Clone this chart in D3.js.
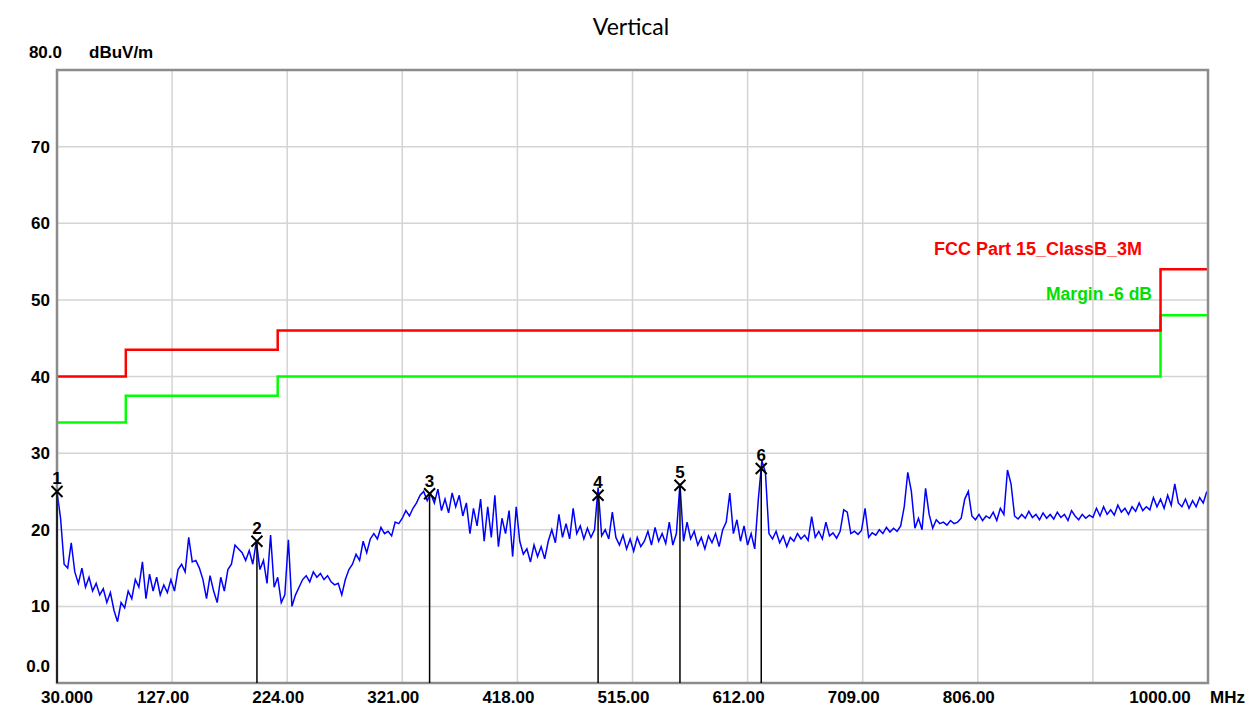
<!DOCTYPE html>
<html>
<head>
<meta charset="utf-8">
<script src="https://cdn.jsdelivr.net/npm/d3@7"></script>
<style>
  body { margin: 0; background: #fff; }
  svg { display: block; }
</style>
</head>
<body>
<div id="wrapper"></div>
<script>
// sweep: 30 MHz start, 3 MHz step (one reading per step)
const sweepStart = 30;
const sweepStep = 3;
const traceLevels = [
  25.0, 21.5, 15.5, 15.0, 18.3, 14.5, 13.0, 15.0, 12.5, 13.8,
  12.0, 13.0, 11.5, 12.3, 10.5, 11.8, 9.5, 8.0, 10.5, 9.8,
  12.0, 11.0, 13.5, 12.5, 15.8, 11.0, 14.2, 12.0, 13.8, 11.5,
  12.8, 11.8, 13.5, 12.0, 14.8, 15.5, 14.5, 19.0, 15.8, 16.0,
  15.0, 13.5, 11.0, 14.0, 12.0, 10.5, 13.8, 12.0, 14.8, 15.5,
  18.0, 17.5, 17.0, 16.0, 17.3, 15.5, 18.5, 14.8, 16.0, 13.0,
  19.3, 12.5, 13.8, 10.5, 11.5, 18.7, 10.0, 11.5, 12.5, 13.5,
  14.0, 13.2, 14.5, 13.8, 14.3, 13.5, 14.0, 13.2, 12.8, 13.0,
  11.5, 13.5, 14.8, 15.5, 16.8, 16.0, 18.5, 17.0, 18.8, 19.5,
  18.8, 20.3, 19.5, 19.8, 19.2, 21.0, 20.8, 21.5, 22.5, 21.8,
  22.8, 23.5, 24.5, 25.0, 23.8, 24.7, 23.5, 25.3, 22.5, 24.0,
  22.2, 24.8, 23.0, 24.5, 21.8, 23.5, 19.5, 22.8, 20.5, 24.0,
  18.5, 23.0, 19.0, 24.5, 17.8, 21.5, 19.5, 22.5, 16.5, 23.0,
  18.5, 16.8, 17.5, 15.8, 18.0, 16.5, 17.8, 16.2, 18.5, 20.0,
  18.3, 22.0, 19.0, 20.8, 18.8, 22.8, 19.5, 20.5, 18.8, 20.2,
  19.0, 20.0, 25.5, 19.2, 20.0, 18.8, 22.3, 19.0, 18.0, 19.3,
  17.5, 18.8, 17.2, 19.0, 17.8, 18.5, 19.8, 18.0, 20.3, 18.5,
  19.5, 18.2, 21.0, 18.0, 19.5, 26.0, 18.5, 21.0, 18.8, 19.8,
  18.0, 19.0, 17.5, 19.2, 18.3, 19.5, 17.8, 20.0, 21.0, 24.8,
  19.5, 21.3, 18.5, 20.5, 18.0, 19.5, 17.5, 23.9, 29.0, 27.5,
  19.5, 18.8, 19.8, 18.3, 19.2, 17.8, 19.0, 18.5, 19.5, 18.8,
  19.3, 18.6, 21.7, 19.0, 19.8, 18.8, 21.0, 19.2, 19.6, 18.9,
  19.8, 22.6, 22.3, 19.5, 19.8, 19.4, 19.9, 22.8, 19.0, 19.6,
  19.3, 20.0, 19.5, 20.3, 19.7, 20.2, 19.8, 20.5, 23.0, 27.5,
  25.0, 20.2, 21.5, 20.0, 25.4, 22.0, 20.2, 21.3, 20.8, 21.0,
  20.6, 21.2, 20.8, 21.0, 21.5, 24.0, 25.0, 21.8, 21.3, 22.0,
  21.2, 21.8, 21.5, 22.3, 21.2, 22.8, 22.0, 27.8, 26.0, 21.8,
  21.4, 22.0, 21.5, 22.4, 21.6, 22.0, 21.3, 22.2, 21.5, 22.0,
  21.4, 22.3, 21.6, 22.0, 21.2, 22.5, 21.8, 21.3, 22.0, 21.5,
  21.9, 21.6, 22.8, 21.8, 23.0, 22.0, 22.6, 21.9, 23.2, 22.3,
  22.8, 22.0, 23.0, 22.4, 23.5, 22.5, 23.0, 22.6, 24.2, 23.0,
  24.0, 22.8, 24.5, 23.2, 26.0, 23.5, 23.0, 24.0, 22.8, 23.8,
  23.0, 24.2, 23.5, 25.0
];

// FCC Part 15 class B @3m
const limitFreqs = [30, 88, 216, 960, 1000];
const limitLevels = [40, 43.5, 46, 54, 54];
const marginDb = 6;

const markerFreqs = [30, 198.5, 344, 486, 555, 623.5];
const markerLevels = [25.0, 18.5, 24.7, 24.5, 25.8, 28.0];

const xGridFreqs = [127, 224, 321, 418, 515, 612, 709, 806, 903];
const xTickFreqs = [30, 127, 224, 321, 418, 515, 612, 709, 806, 1000];
const xTickLabels = ["30.000", "127.00", "224.00", "321.00", "418.00", "515.00", "612.00", "709.00", "806.00", "1000.00"];
const yGridLevels = [10, 20, 30, 40, 50, 60, 70];
const yTickLevels = [0, 10, 20, 30, 40, 50, 60, 70, 80];
const yTickLabels = ["0.0", "10", "20", "30", "40", "50", "60", "70", "80.0"];

function draw() {
  const width = 1255, height = 708;
  const plot = { left: 57, right: 1208, top: 70, bottom: 683 };

  const svg = d3.select("#wrapper")
    .append("svg")
      .attr("width", width)
      .attr("height", height);

  const x = d3.scaleLinear().domain([30, 1000]).range([plot.left, plot.right]);
  const y = d3.scaleLinear().domain([0, 80]).range([plot.bottom, plot.top]);

  svg.append("defs").append("clipPath").attr("id", "clip")
    .append("rect")
      .attr("x", plot.left).attr("y", plot.top)
      .attr("width", plot.right - plot.left).attr("height", plot.bottom - plot.top);

  // title
  svg.append("text")
    .attr("x", 631).attr("y", 35)
    .attr("text-anchor", "middle")
    .style("font-family", "Lato, 'Open Sans', sans-serif")
    .style("font-size", "23px")
    .attr("fill", "#000")
    .text("Vertical");

  // grid
  const grid = svg.append("g");
  grid.selectAll("line.vx")
    .data(xGridFreqs)
    .join("line")
      .attr("x1", d => x(d)).attr("x2", d => x(d))
      .attr("y1", plot.top).attr("y2", plot.bottom)
      .attr("stroke", "#d4d4d4").attr("stroke-width", 1.5);
  grid.selectAll("line.hy")
    .data(yGridLevels)
    .join("line")
      .attr("x1", plot.left).attr("x2", plot.right)
      .attr("y1", d => y(d)).attr("y2", d => y(d))
      .attr("stroke", "#d4d4d4").attr("stroke-width", 1.5);

  const labelFont = "'Liberation Sans', Arial, sans-serif";

  // y labels
  svg.append("g").selectAll("text")
    .data(yTickLevels)
    .join("text")
      .attr("x", (d, i) => d === 80 ? 62 : 50)
      .attr("y", d => d === 80 ? 58 : (d === 0 ? y(d) - 11 : y(d) + 6))
      .attr("text-anchor", "end")
      .style("font-family", labelFont)
      .style("font-weight", "bold")
      .style("font-size", "17px")
      .text((d, i) => yTickLabels[i]);

  svg.append("text")
    .attr("x", 89).attr("y", 58)
    .style("font-family", labelFont)
    .style("font-weight", "bold")
    .style("font-size", "17px")
    .text("dBuV/m");

  // x labels
  svg.append("g").selectAll("text")
    .data(xTickFreqs)
    .join("text")
      .attr("x", (d, i) => {
        if (i === 0) return x(d) + 10;
        if (d === 1000) return x(d) - 48;
        return x(d) - 9;
      })
      .attr("y", 703)
      .attr("text-anchor", "middle")
      .style("font-family", labelFont)
      .style("font-weight", "bold")
      .style("font-size", "17px")
      .text((d, i) => xTickLabels[i]);

  svg.append("text")
    .attr("x", 1210).attr("y", 703)
    .style("font-family", labelFont)
    .style("font-weight", "bold")
    .style("font-size", "17px")
    .text("MHz");

  const chart = svg.append("g").attr("clip-path", "url(#clip)");

  // measured trace
  const traceLine = d3.line()
    .x((d, i) => x(sweepStart + i * sweepStep))
    .y(d => y(d));
  chart.append("path")
    .attr("d", traceLine(traceLevels))
    .attr("fill", "none")
    .attr("stroke", "#0000ff")
    .attr("stroke-width", 1.5)
    .attr("stroke-linejoin", "miter");

  // limit and margin
  const stepLine = d3.line()
    .x((d, i) => x(limitFreqs[i]))
    .y(d => y(d))
    .curve(d3.curveStepAfter);
  chart.append("path")
    .attr("d", stepLine(limitLevels.map(v => v - marginDb)))
    .attr("fill", "none")
    .attr("stroke", "#00ff00")
    .attr("stroke-width", 2.5);
  chart.append("path")
    .attr("d", stepLine(limitLevels))
    .attr("fill", "none")
    .attr("stroke", "#ff0000")
    .attr("stroke-width", 2.5);

  svg.append("text")
    .attr("x", 1142).attr("y", 255)
    .attr("text-anchor", "end")
    .style("font-family", labelFont)
    .style("font-weight", "bold")
    .style("font-size", "18px")
    .attr("fill", "#ff0000")
    .text("FCC Part 15_ClassB_3M");
  svg.append("text")
    .attr("x", 1152).attr("y", 300)
    .attr("text-anchor", "end")
    .style("font-family", labelFont)
    .style("font-weight", "bold")
    .style("font-size", "17.5px")
    .attr("fill", "#00e000")
    .text("Margin -6 dB");

  // frame
  svg.append("rect")
    .attr("x", plot.left).attr("y", plot.top)
    .attr("width", plot.right - plot.left).attr("height", plot.bottom - plot.top)
    .attr("fill", "none")
    .attr("stroke", "#8c8c8c")
    .attr("stroke-width", 2.5);

  // markers
  const markers = svg.append("g")
    .selectAll("g")
    .data(markerFreqs)
    .join("g")
      .attr("transform", (d, i) => "translate(" + x(d) + "," + y(markerLevels[i]) + ")");
  markers.append("line")
    .attr("x1", 0).attr("x2", 0)
    .attr("y1", 0).attr("y2", (d, i) => plot.bottom - y(markerLevels[i]))
    .attr("stroke", "#000").attr("stroke-width", 1.5);
  markers.append("path")
    .attr("d", "M-5.5,-5.5L5.5,5.5M-5.5,5.5L5.5,-5.5")
    .attr("stroke", "#000").attr("stroke-width", 2);
  markers.append("text")
    .attr("x", 0).attr("y", -7)
    .attr("text-anchor", "middle")
    .style("font-family", labelFont)
    .style("font-weight", "bold")
    .style("font-size", "17px")
    .text((d, i) => i + 1);
}
draw();
</script>
</body>
</html>
